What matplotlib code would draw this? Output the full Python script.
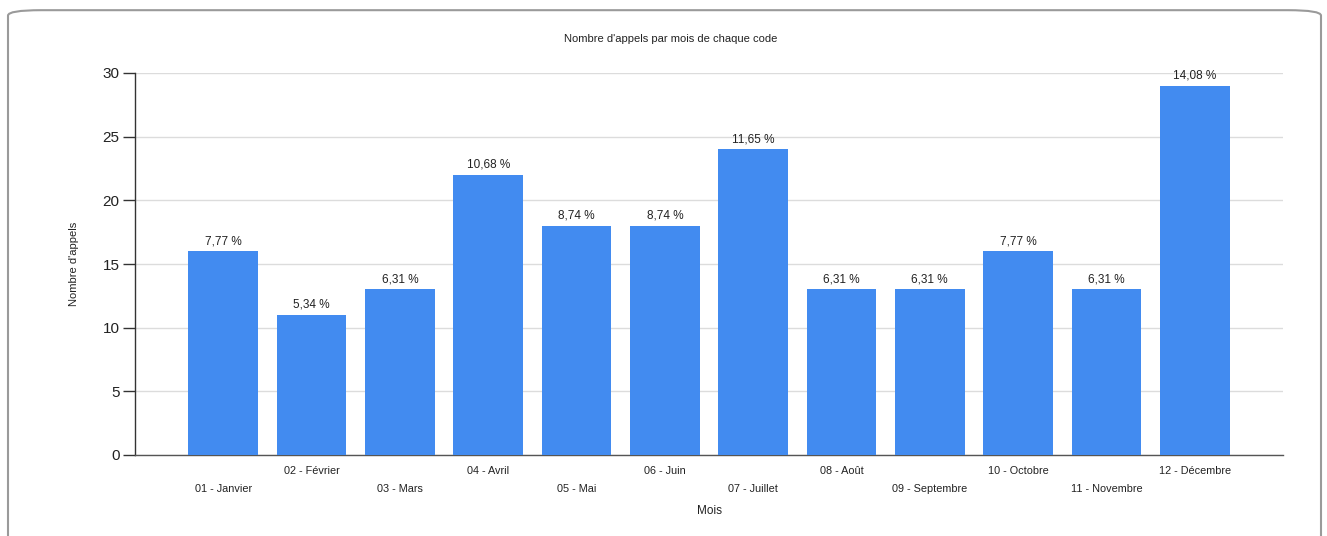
import matplotlib.pyplot as plt
from matplotlib.patches import FancyBboxPatch

plt.rcParams['font.family'] = ['Liberation Sans', 'DejaVu Sans']

months = ["01 - Janvier", "02 - Février", "03 - Mars", "04 - Avril", "05 - Mai",
          "06 - Juin", "07 - Juillet", "08 - Août", "09 - Septembre",
          "10 - Octobre", "11 - Novembre", "12 - Décembre"]
calls = [16, 11, 13, 22, 18, 18, 24, 13, 13, 16, 13, 29]
pct_labels = ["7,77 %", "5,34 %", "6,31 %", "10,68 %", "8,74 %", "8,74 %",
              "11,65 %", "6,31 %", "6,31 %", "7,77 %", "6,31 %", "14,08 %"]

fig = plt.figure(figsize=(13.27, 5.36), dpi=100)
ax = fig.add_axes([135 / 1327, 1 - 455 / 536, (1283 - 135) / 1327, (455 - 73) / 536])

# rounded frame around the chart
frame = FancyBboxPatch((8 / 1327, -0.05), (1321 - 8) / 1327, 1.031,
                       boxstyle="round,pad=0,rounding_size=0.025",
                       transform=fig.transFigure, facecolor='none',
                       edgecolor='#9a9a9a', linewidth=1.5, clip_on=False,
                       mutation_aspect=536 / 1327)
fig.patches.append(frame)

x = list(range(len(months)))
bars = ax.bar(x, calls, width=0.79, color='#428bf0', zorder=3)
ax.bar_label(bars, labels=pct_labels, padding=3, fontsize=8.5, color='#222222')

ax.set_xlim(-1, 12)
ax.set_ylim(0, 30)
ax.set_yticks([0, 5, 10, 15, 20, 25, 30])
ax.grid(axis='y', color='#dcdcdc', linewidth=1, zorder=0)
ax.set_axisbelow(True)

ax.set_xticks(x)
ax.set_xticklabels(months, fontsize=7.8, color='#222222')
ax.tick_params(axis='x', length=0)
for i, tick in enumerate(ax.xaxis.get_major_ticks()):
    tick.set_pad(8 if i % 2 == 1 else 21)
ax.tick_params(axis='y', length=9, width=1, color='#333333', labelsize=11,
               labelcolor='#222222', pad=2)

for s in ['top', 'right']:
    ax.spines[s].set_visible(False)
ax.spines['left'].set_color('#333333')
ax.spines['bottom'].set_color('#555555')
ax.spines['left'].set_linewidth(1)
ax.spines['bottom'].set_linewidth(1)

ax.set_ylabel("Nombre d'appels", fontsize=8, color='#222222', labelpad=17)
ax.set_xlabel("Mois", fontsize=8.5, color='#222222', labelpad=8)
fig.text(671 / 1327, 1 - 39 / 536, "Nombre d'appels par mois de chaque code",
         ha='center', va='center', fontsize=8, color='#222222')

fig.savefig('out.png', dpi=100)
